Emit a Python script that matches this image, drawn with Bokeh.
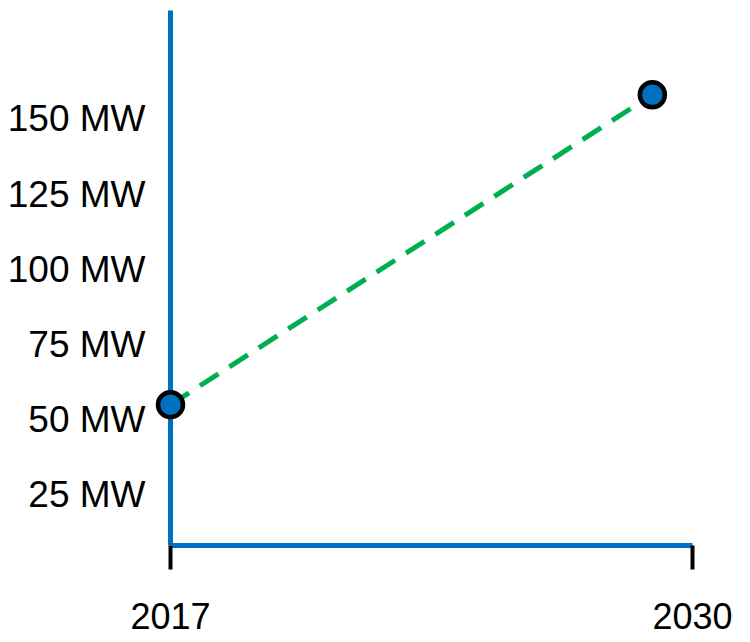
from bokeh.plotting import figure
from bokeh.models import Range1d, FixedTicker
from bokeh.embed import file_html
from bokeh.resources import INLINE

# Data
years = [2017, 2029]
capacity_mw = [55, 158]
mw_ticks = [25, 50, 75, 100, 125, 150]
mw_labels = [f"{v} MW" for v in mw_ticks]
year_ticks = [2017, 2030]
year_labels = ["2017", "2030"]

BLUE = "#0070C0"
GREEN = "#00B050"
FONT = "Liberation Sans"

p = figure(width=750, height=642, output_backend="svg", toolbar_location=None,
           x_range=Range1d(2017, 2030), y_range=Range1d(8.2, 186),
           min_border_left=170, min_border_right=58, min_border_top=10,
           min_border_bottom=97)
p.outline_line_color = None
p.xgrid.grid_line_color = None
p.ygrid.grid_line_color = None
p.background_fill_color = "white"
p.border_fill_color = "white"

# y axis
p.yaxis.ticker = FixedTicker(ticks=mw_ticks)
p.yaxis.major_label_overrides = {t: l for t, l in zip(mw_ticks, mw_labels)}
p.yaxis.axis_line_color = BLUE
p.yaxis.axis_line_width = 5
p.yaxis.major_tick_line_color = None
p.yaxis.minor_tick_line_color = None
p.yaxis.major_label_text_font = FONT
p.yaxis.major_label_text_font_size = "37px"
p.yaxis.major_label_text_color = "black"
p.yaxis.major_label_standoff = 19

# x axis
p.xaxis.ticker = FixedTicker(ticks=year_ticks)
p.xaxis.major_label_overrides = {t: l for t, l in zip(year_ticks, year_labels)}
p.xaxis.axis_line_color = BLUE
p.xaxis.axis_line_width = 5
p.xaxis.major_tick_line_color = "black"
p.xaxis.major_tick_line_width = 4
p.xaxis.major_tick_in = 0
p.xaxis.major_tick_out = 24
p.xaxis.minor_tick_line_color = None
p.xaxis.major_label_text_font = FONT
p.xaxis.major_label_text_font_size = "36px"
p.xaxis.major_label_text_color = "black"
p.xaxis.major_label_standoff = 33

p.line(years, capacity_mw, line_color=GREEN, line_width=5, line_dash="22 13")
p.scatter(years, capacity_mw, size=25, fill_color=BLUE, line_color="black",
          line_width=4.5, level="overlay")

open("out.html", "w").write(file_html(p, INLINE))
